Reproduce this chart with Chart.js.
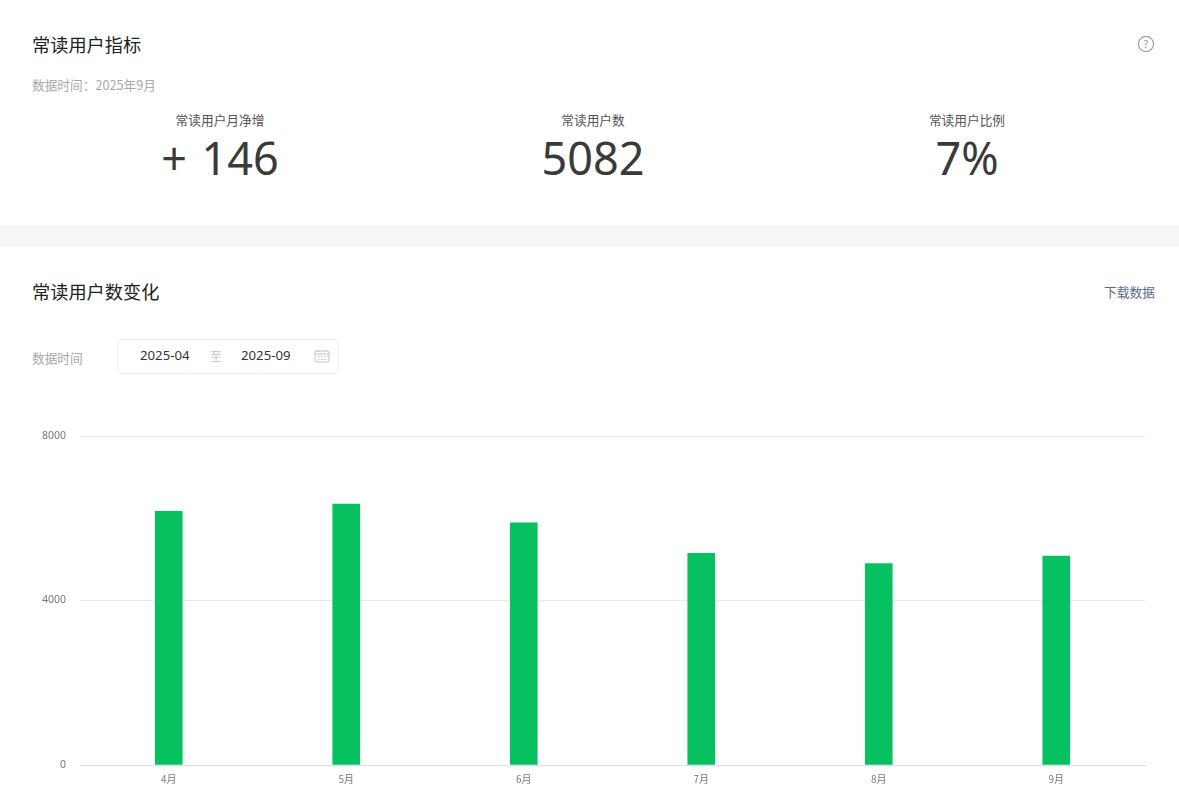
<!DOCTYPE html>
<html lang="zh">
<head>
<meta charset="utf-8">
<title>常读用户指标</title>
<script src="https://cdn.jsdelivr.net/npm/chart.js@4"></script>
<style>
  html, body { margin: 0; padding: 0; background: #fff; overflow: hidden; }
  body { width: 1179px; height: 805px; position: relative; font-family: 'Noto Sans CJK SC', 'Noto Sans', sans-serif; color: #353535; }
  .abs { position: absolute; white-space: nowrap; line-height: 1; }
  .gap { position: absolute; left: 0; top: 225px; width: 1179px; height: 22px; background: #f5f6f7; }
  .title { left: 32px; font-size: 18.2px; color: #222; }
  .muted { left: 32px; font-size: 12.7px; color: #a8a8a8; }
  .stat { width: 300px; text-align: center; }
  .stat .label { font-size: 12.7px; color: #555; line-height: 1; }
  .stat .num { font-family: 'Noto Sans', sans-serif; font-weight: 400; font-size: 45px; color: #3a3a3a; line-height: 1; margin-top: 8px; word-spacing: 3px; }
  .picker { position: absolute; left: 117px; top: 339px; width: 220px; height: 33px; border: 1px solid #f0f0f0; border-radius: 4px; }
  .date { font-size: 13.2px; color: #353535; font-family: 'Noto Sans', sans-serif; }
  #chartWrap { position: absolute; left: 0; top: 426px; width: 1160px; height: 379px; }
</style>
</head>
<body>
<div class="abs title" style="top:35px">常读用户指标</div>
<div class="abs muted" style="top:79px">数据时间：2025年9月</div>
<svg class="abs" style="left:1137px;top:35px" width="18" height="18" viewBox="0 0 18 18">
  <circle cx="9" cy="9" r="7.6" fill="none" stroke="#9a9a9a" stroke-width="1.2"/>
  <text x="9" y="13" text-anchor="middle" font-size="11" fill="#9a9a9a" font-family="Noto Sans">?</text>
</svg>

<div class="abs stat" style="left:70px;top:114px"><div class="label">常读用户月净增</div><div class="num">+ 146</div></div>
<div class="abs stat" style="left:443px;top:114px"><div class="label">常读用户数</div><div class="num">5082</div></div>
<div class="abs stat" style="left:817px;top:114px"><div class="label">常读用户比例</div><div class="num">7%</div></div>

<div class="gap"></div>

<div class="abs title" style="top:282px">常读用户数变化</div>
<div class="abs" style="left:1104px;top:286px;font-size:12.75px;color:#576b95">下载数据</div>
<div class="abs muted" style="top:352px">数据时间</div>
<div class="picker"></div>
<div class="abs date" style="left:140px;top:349px">2025-04</div>
<div class="abs" style="left:210px;top:350px;font-size:12px;color:#c4c4c4">至</div>
<div class="abs date" style="left:241px;top:349px">2025-09</div>
<svg class="abs" style="left:314px;top:349px" width="16" height="14" viewBox="0 0 16 14">
  <rect x="1" y="2" width="14" height="11" rx="1" fill="none" stroke="#c4c4c4"/>
  <path d="M1 5h14M4 1v2M12 1v2" stroke="#c4c4c4"/>
  <path d="M4 7.5h8M4 10.5h8" stroke="#c4c4c4" stroke-dasharray="1.5 1.5"/>
</svg>

<div id="chartWrap"><canvas id="usersChart"></canvas></div>

<script>
const months = ['4月', '5月', '6月', '7月', '8月', '9月'];
const regularUsers = [6170, 6345, 5890, 5145, 4900, 5082];
const yTicks = [0, 4000, 8000];

const X_FONT = { family: "'Noto Sans CJK SC', 'Noto Sans', sans-serif", size: 10 };
const Y_FONT = { family: "'Noto Sans', sans-serif", size: 10.5 };

new Chart(document.getElementById('usersChart'), {
  type: 'bar',
  data: {
    labels: months,
    datasets: [{ data: regularUsers, backgroundColor: '#07c160', barThickness: 27 }]
  },
  options: {
    responsive: true, maintainAspectRatio: false,
    animation: false,
    layout: { padding: { top: 10, right: 15, left: 0, bottom: 0 } },
    plugins: { legend: { display: false }, tooltip: { enabled: false } },
    scales: {
      x: {
        afterFit(scale) { scale.height = 40; },
        grid: { display: false },
        border: { color: '#d8dfec', width: 1 },
        ticks: { color: '#777', font: X_FONT, padding: 0, maxRotation: 0 }
      },
      y: {
        min: 0, max: 8000,
        // tick padding would otherwise also push the plot top down
        afterFit(scale) { scale.width = 80; scale.paddingTop = 0; scale.paddingBottom = 0; },
        afterBuildTicks(scale) { scale.ticks = yTicks.map(value => ({ value })); },
        grid: { color: '#e9e9e9', drawTicks: false },
        border: { display: false },
        ticks: { color: '#777', font: Y_FONT, padding: 14, callback: v => String(v) }
      }
    }
  }
});
</script>
</body>
</html>
